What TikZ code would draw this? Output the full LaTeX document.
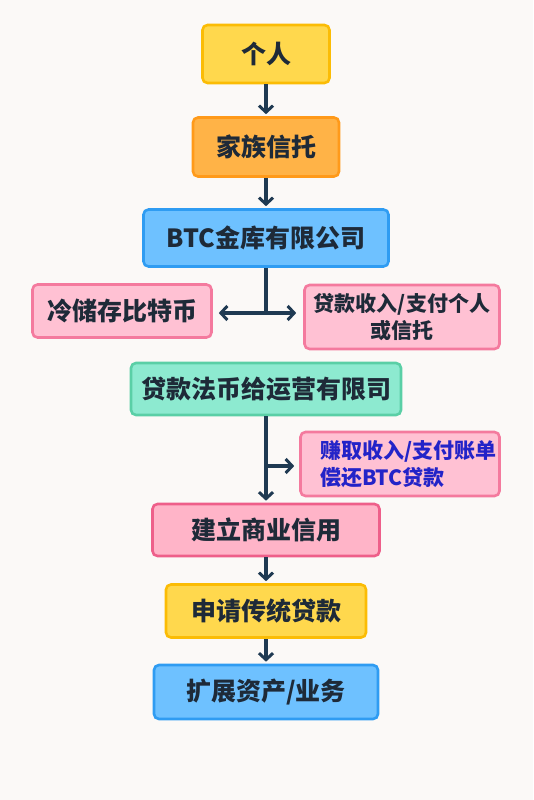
\documentclass[tikz,border=0pt]{standalone}
\usepackage{fontspec}
\setmainfont{Noto Sans CJK SC}
\usetikzlibrary{arrows.meta}

\definecolor{bgpaper}{HTML}{FBF9F7}
\definecolor{inkdark}{HTML}{1E2A38}
\definecolor{inkblue}{HTML}{2323C8}
\definecolor{arrowink}{HTML}{1F3A52}
\definecolor{yellowfill}{HTML}{FFD84D}
\definecolor{yellowline}{HTML}{FBBC05}
\definecolor{orangefill}{HTML}{FFB347}
\definecolor{orangeline}{HTML}{FF9A1A}
\definecolor{bluefill}{HTML}{6EC1FF}
\definecolor{blueline}{HTML}{2F9CF2}
\definecolor{pinkfill}{HTML}{FFC1D3}
\definecolor{pinkline}{HTML}{F47A9E}
\definecolor{rosefill}{HTML}{FFB4C8}
\definecolor{roseline}{HTML}{EE5F8A}
\definecolor{mintfill}{HTML}{8DEAD0}
\definecolor{mintline}{HTML}{5ACFA6}

\begin{document}
\begin{tikzpicture}[x=1pt, y=-1pt,
    box/.style={rectangle, rounded corners=5pt, line width=2.6pt, text=inkdark,
      font=\fontsize{25}{29}\selectfont\bfseries, inner sep=0pt},
    sidebox/.style={box, font=\fontsize{21}{27}\selectfont\bfseries},
    arr/.style={draw=arrowink, line width=3.2pt, -{Straight Barb[length=6.5pt, width=14pt, line width=3pt]}, shorten >=2pt},
    stem/.style={draw=arrowink, line width=3.2pt}]
    \fill[bgpaper] (0,0) rectangle (533,800);
    \useasboundingbox (0,0) rectangle (533,800);

    \node[box, fill=yellowfill, draw=yellowline, minimum width=127pt, minimum height=58pt] (person) at (266,54) {个人};
    \node[box, fill=orangefill, draw=orangeline, minimum width=146pt, minimum height=59pt] (trust) at (266,147) {家族信托};
    \node[box, fill=bluefill, draw=blueline, minimum width=245pt, minimum height=57pt] (vault) at (266,238) {BTC金库有限公司};
    \node[box, fill=pinkfill, draw=pinkline, minimum width=179pt, minimum height=53pt] (cold) at (122,311) {冷储存比特币};
    \node[sidebox, fill=pinkfill, draw=pinkline, minimum width=195pt, minimum height=64pt, align=center] (loanin) at (402,317) {贷款收入/支付个人\\或信托};
    \node[box, fill=mintfill, draw=mintline, minimum width=270pt, minimum height=52pt] (fiat) at (266,389) {贷款法币给运营有限司};
    \node[sidebox, fill=pinkfill, draw=pinkline, text=inkblue, minimum width=199pt, minimum height=64pt, text width=160pt, align=left] (earn) at (400,464) {赚取收入/支付账单\\偿还BTC贷款};
    \node[box, fill=rosefill, draw=roseline, minimum width=227pt, minimum height=52pt] (credit) at (266,530) {建立商业信用};
    \node[box, fill=yellowfill, draw=yellowline, minimum width=200pt, minimum height=53pt] (apply) at (266,611) {申请传统贷款};
    \node[box, fill=bluefill, draw=blueline, minimum width=224pt, minimum height=54pt] (expand) at (266,692) {扩展资产/业务};

    \coordinate (split) at (266,313);
    \coordinate (branch) at (266,466);

    % main chain
    \draw[arr] (person) -- (trust);
    \draw[arr] (trust) -- (vault);
    \draw[stem] (vault.south) -- (split);
    \draw[arr, shorten >=6pt] (split) -- (split -| cold.east);
    \draw[arr, shorten >=7pt] (split) -- (split -| loanin.west);
    \draw[arr] (fiat) -- (credit);
    \draw[arr, shorten >=5pt] (branch) -- (branch -| earn.west);
    \draw[arr] (credit) -- (apply);
    \draw[arr] (apply) -- (expand);
\end{tikzpicture}
\end{document}
